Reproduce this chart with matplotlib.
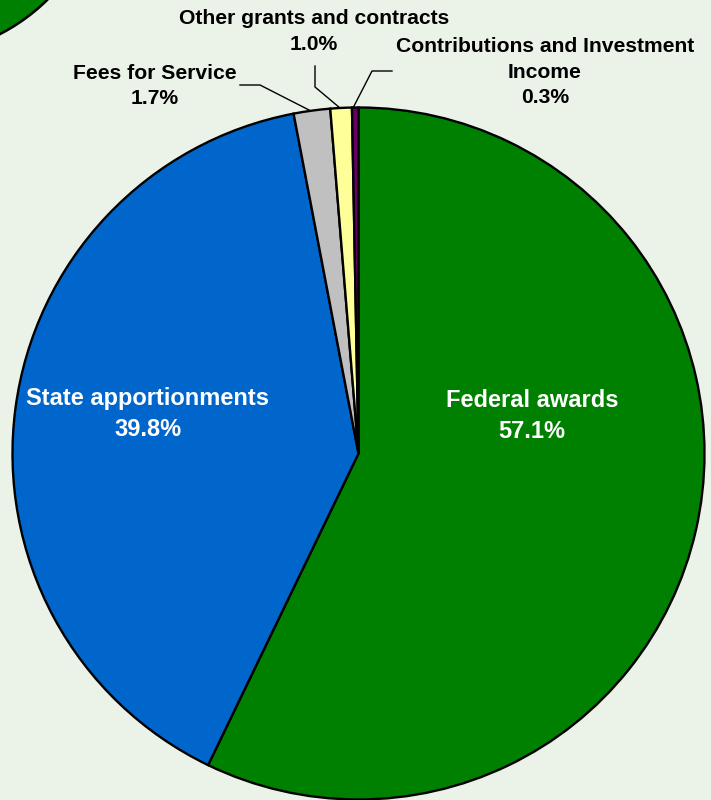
import matplotlib.pyplot as plt
from matplotlib.patches import Circle

# Revenue shares (percent), clockwise from 12 o'clock
categories = ["Federal awards", "State apportionments", "Fees for Service",
              "Other grants and contracts", "Contributions and Investment\nIncome"]
shares = [57.1, 39.8, 1.7, 1.0, 0.3]
colors = ["#008000", "#0066CC", "#C0C0C0", "#FFFF99", "#660066"]

W, H = 711, 800
bg = "#EBF2E8"

fig = plt.figure(figsize=(W / 100, H / 100), dpi=100)
fig.patch.set_facecolor(bg)
ax = fig.add_axes([0, 0, 1, 1])

plt.rcParams["font.family"] = ["Liberation Sans", "DejaVu Sans"]

# decorative piece of a neighbouring chart in the top-left corner
ax.add_patch(Circle((-90, H + 140), 196, facecolor="#008000",
                    edgecolor="black", linewidth=1.8, zorder=1))

cx, cy, r = 358.5, H - 453.5, 346
ax.pie(shares, colors=colors, startangle=90, counterclock=False,
       center=(cx, cy), radius=r, frame=True,
       wedgeprops=dict(edgecolor="black", linewidth=1.7))
ax.set_xlim(0, W)
ax.set_ylim(0, H)
ax.set_aspect("equal")
ax.axis("off")

# labels inside the big wedges
inner = [(532, 416), (148, 414)]
for (x, y), name, val in zip(inner, categories[:2], shares[:2]):
    ax.text(x, H - y, f"{name}\n{val:.1f}%", ha="center", va="center",
            color="white", fontsize=17, fontweight="bold", linespacing=1.45)

# outside labels for the small wedges
outer = [(155, 86), (314, 31.5), (545, 72)]
for (x, y), name, val in zip(outer, categories[2:], shares[2:]):
    ax.text(x, H - y, f"{name}\n{val:.1f}%", ha="center", va="center",
            color="black", fontsize=15.2, fontweight="bold", linespacing=1.42)

# leader lines
leaders = [
    [(309, 110), (260, 85), (240, 85)],
    [(340, 108), (315, 87), (315, 66)],
    [(353, 108), (372, 71), (392, 71)],
]
for pts in leaders:
    xs = [p[0] for p in pts]
    ys = [H - p[1] for p in pts]
    ax.plot(xs, ys, color="black", linewidth=1.0)

fig.savefig("out.png", dpi=100, facecolor=bg)
